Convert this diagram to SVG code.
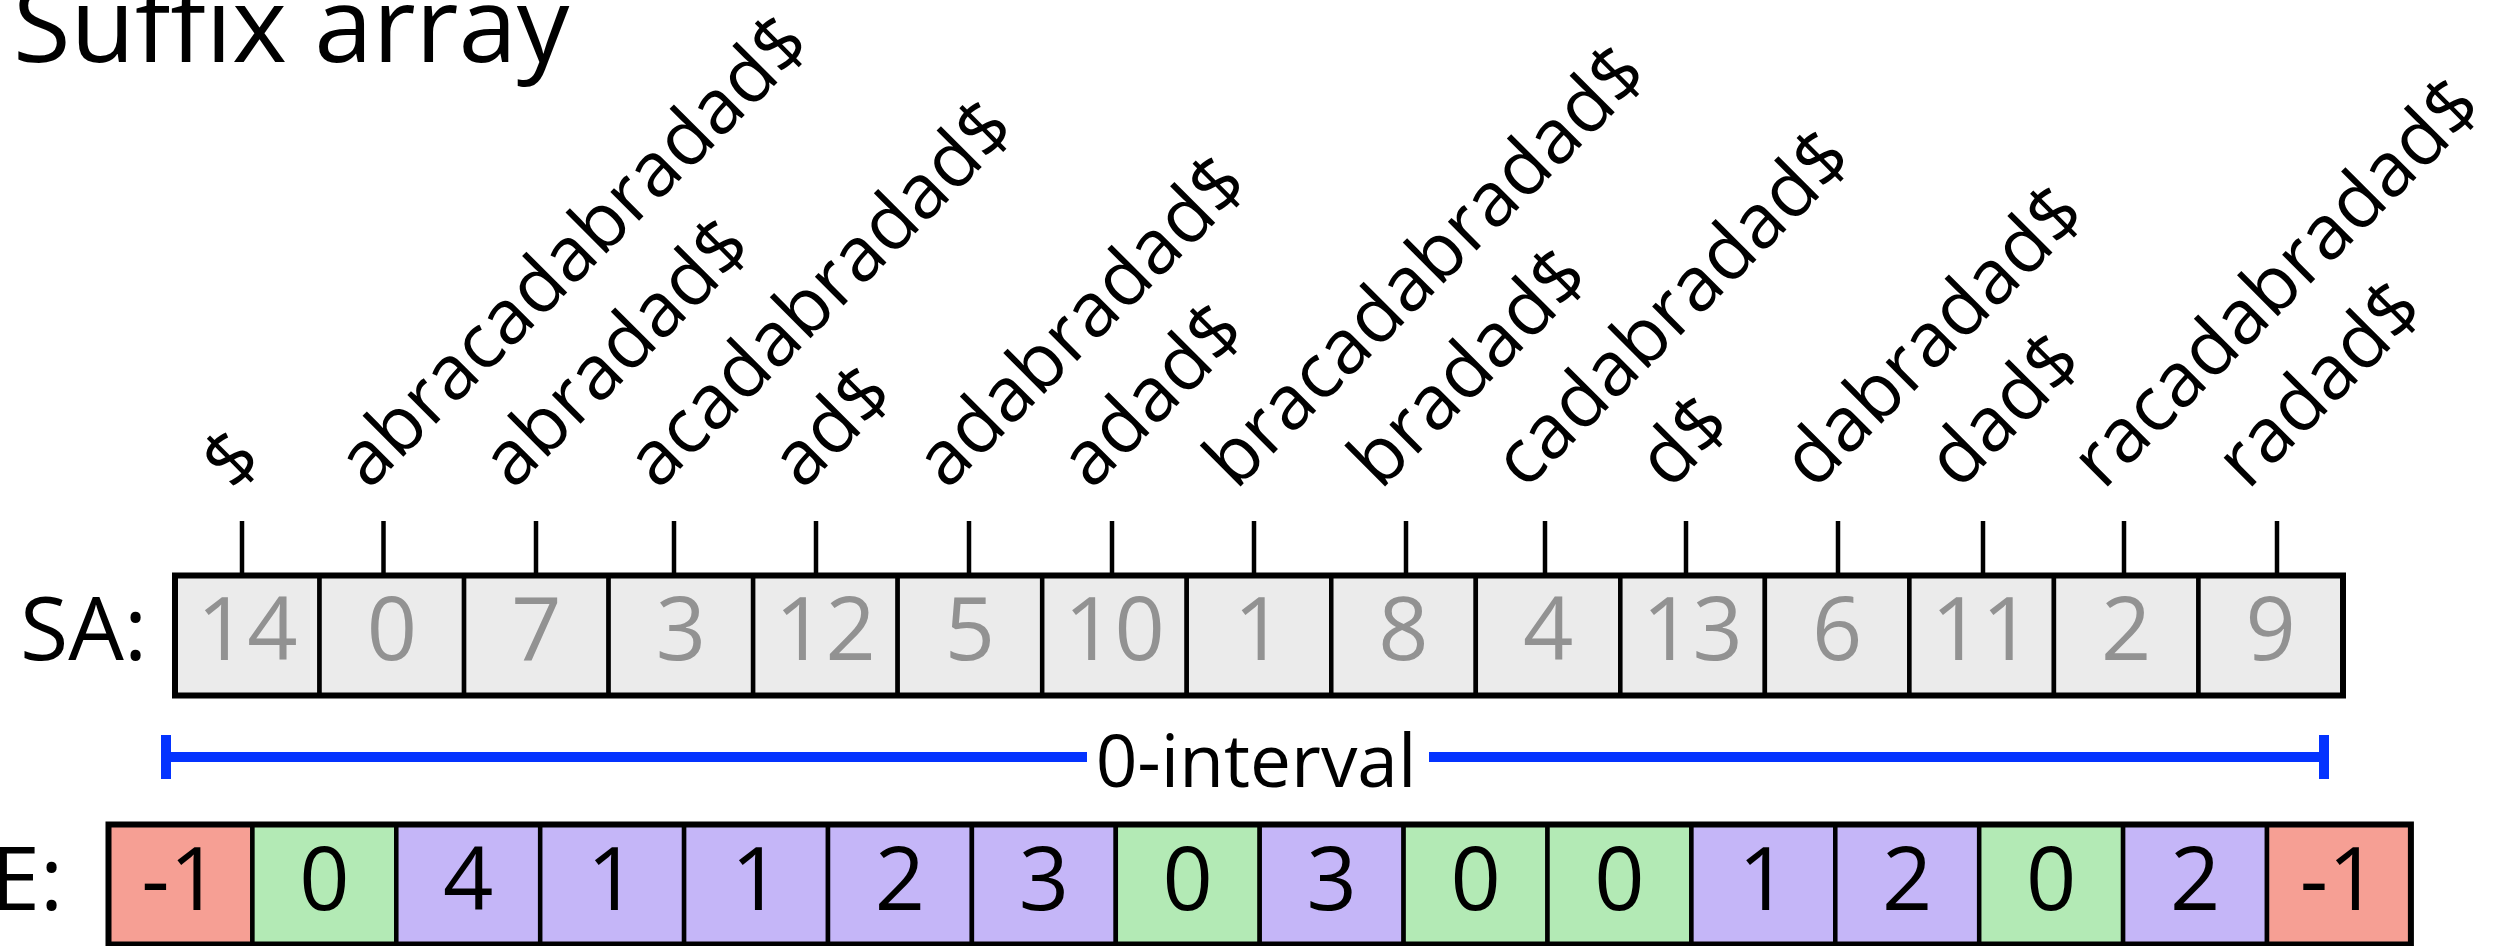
<svg xmlns="http://www.w3.org/2000/svg" width="2515" height="946" viewBox="0 0 2515 946">
  <style>
    text { font-family: "Open Sans", "Noto Sans", "Liberation Sans", sans-serif; }
    .title { font-size: 105px; fill: #000; }
    .rowlabel { font-size: 88px; fill: #000; text-anchor: end; }
    .suffix { font-size: 76px; fill: #000; }
    .sa-cell { fill: #ebebeb; stroke: #000; stroke-width: 4.5; }
    .sa-val { font-size: 88px; fill: #929292; text-anchor: middle; }
    .lcp-cell { stroke: #000; stroke-width: 4.5; }
    .lcp-val { font-size: 88px; fill: #000; text-anchor: middle; }
    .neg { fill: #f69f94; }
    .zero { fill: #b3eab5; }
    .pos { fill: #c5b6f8; }
    .frame { fill: none; stroke: #000; stroke-width: 6; }
    .tick { stroke: #000; stroke-width: 4.5; }
    .interval { stroke: #0433ff; stroke-width: 10; fill: none; }
    .interval-label { font-size: 73px; fill: #000; text-anchor: middle; }
  </style>

  <rect width="2515" height="946" fill="#fff"/>

  <text class="title" x="13" y="62">Suffix array</text>

  <!-- row labels -->
  <text id="sa-label" class="rowlabel" x="147" y="660">SA:</text>
  <text id="lcp-label" class="rowlabel" x="63" y="910">E:</text>

  <!-- suffixes, rotated 45 degrees above each SA entry -->
  <g id="suffix-0"><text class="suffix" transform="translate(234,493) rotate(-45)">$</text></g>
  <g id="suffix-1"><text class="suffix" transform="translate(368.8,491) rotate(-45)">abracadabradad$</text></g>
  <g id="suffix-2"><text class="suffix" transform="translate(513.3,491) rotate(-45)">abradad$</text></g>
  <g id="suffix-3"><text class="suffix" transform="translate(657.9,491) rotate(-45)">acadabradad$</text></g>
  <g id="suffix-4"><text class="suffix" transform="translate(802.4,491) rotate(-45)">ad$</text></g>
  <g id="suffix-5"><text class="suffix" transform="translate(946.9,491) rotate(-45)">adabradad$</text></g>
  <g id="suffix-6"><text class="suffix" transform="translate(1091.5,491) rotate(-45)">adad$</text></g>
  <g id="suffix-7"><text class="suffix" transform="translate(1236,491) rotate(-45)">bracadabradad$</text></g>
  <g id="suffix-8"><text class="suffix" transform="translate(1380.5,491) rotate(-45)">bradad$</text></g>
  <g id="suffix-9"><text class="suffix" transform="translate(1525.1,491) rotate(-45)">cadabradad$</text></g>
  <g id="suffix-10"><text class="suffix" transform="translate(1669.6,491) rotate(-45)">d$</text></g>
  <g id="suffix-11"><text class="suffix" transform="translate(1814.1,491) rotate(-45)">dabradad$</text></g>
  <g id="suffix-12"><text class="suffix" transform="translate(1958.7,491) rotate(-45)">dad$</text></g>
  <g id="suffix-13"><text class="suffix" transform="translate(2103.2,491) rotate(-45)">racadabradad$</text></g>
  <g id="suffix-14"><text class="suffix" transform="translate(2247.7,491) rotate(-45)">radad$</text></g>

  <!-- leader ticks from each suffix down to its SA entry -->
  <g id="connectors">
    <line class="tick" x1="242" y1="521" x2="242" y2="575"/>
    <line class="tick" x1="383.5" y1="521" x2="383.5" y2="575"/>
    <line class="tick" x1="536" y1="521" x2="536" y2="575"/>
    <line class="tick" x1="674" y1="521" x2="674" y2="575"/>
    <line class="tick" x1="816" y1="521" x2="816" y2="575"/>
    <line class="tick" x1="969" y1="521" x2="969" y2="575"/>
    <line class="tick" x1="1112" y1="521" x2="1112" y2="575"/>
    <line class="tick" x1="1254" y1="521" x2="1254" y2="575"/>
    <line class="tick" x1="1406" y1="521" x2="1406" y2="575"/>
    <line class="tick" x1="1545" y1="521" x2="1545" y2="575"/>
    <line class="tick" x1="1686" y1="521" x2="1686" y2="575"/>
    <line class="tick" x1="1838" y1="521" x2="1838" y2="575"/>
    <line class="tick" x1="1983" y1="521" x2="1983" y2="575"/>
    <line class="tick" x1="2124" y1="521" x2="2124" y2="575"/>
    <line class="tick" x1="2277" y1="521" x2="2277" y2="575"/>
  </g>

  <!-- suffix array -->
  <g id="sa">
    <g id="sa-0"><rect class="sa-cell" x="175" y="575.5" width="144.53" height="120"/><text class="sa-val" x="247.27" y="660">14</text></g>
    <g id="sa-1"><rect class="sa-cell" x="319.53" y="575.5" width="144.53" height="120"/><text class="sa-val" x="391.8" y="660">0</text></g>
    <g id="sa-2"><rect class="sa-cell" x="464.07" y="575.5" width="144.53" height="120"/><text class="sa-val" x="536.33" y="660">7</text></g>
    <g id="sa-3"><rect class="sa-cell" x="608.6" y="575.5" width="144.53" height="120"/><text class="sa-val" x="680.87" y="660">3</text></g>
    <g id="sa-4"><rect class="sa-cell" x="753.13" y="575.5" width="144.53" height="120"/><text class="sa-val" x="825.4" y="660">12</text></g>
    <g id="sa-5"><rect class="sa-cell" x="897.67" y="575.5" width="144.53" height="120"/><text class="sa-val" x="969.93" y="660">5</text></g>
    <g id="sa-6"><rect class="sa-cell" x="1042.2" y="575.5" width="144.53" height="120"/><text class="sa-val" x="1114.47" y="660">10</text></g>
    <g id="sa-7"><rect class="sa-cell" x="1186.73" y="575.5" width="144.53" height="120"/><text class="sa-val" x="1259" y="660">1</text></g>
    <g id="sa-8"><rect class="sa-cell" x="1331.27" y="575.5" width="144.53" height="120"/><text class="sa-val" x="1403.53" y="660">8</text></g>
    <g id="sa-9"><rect class="sa-cell" x="1475.8" y="575.5" width="144.53" height="120"/><text class="sa-val" x="1548.07" y="660">4</text></g>
    <g id="sa-10"><rect class="sa-cell" x="1620.33" y="575.5" width="144.53" height="120"/><text class="sa-val" x="1692.6" y="660">13</text></g>
    <g id="sa-11"><rect class="sa-cell" x="1764.87" y="575.5" width="144.53" height="120"/><text class="sa-val" x="1837.13" y="660">6</text></g>
    <g id="sa-12"><rect class="sa-cell" x="1909.4" y="575.5" width="144.53" height="120"/><text class="sa-val" x="1981.67" y="660">11</text></g>
    <g id="sa-13"><rect class="sa-cell" x="2053.93" y="575.5" width="144.53" height="120"/><text class="sa-val" x="2126.2" y="660">2</text></g>
    <g id="sa-14"><rect class="sa-cell" x="2198.47" y="575.5" width="144.53" height="120"/><text class="sa-val" x="2270.73" y="660">9</text></g>
    <rect class="frame" x="175" y="575.5" width="2168" height="120"/>
  </g>

  <!-- interval bracket -->
  <g id="interval">
    <path class="interval" d="M166 757 H1087 M1429 757 H2324 M166 735 V779 M2324 735 V779"/>
    <text class="interval-label" x="1256" y="787">0-interval</text>
  </g>

  <!-- LCP array -->
  <g id="lcp">
    <g id="lcp-0"><rect class="lcp-cell neg" x="108.5" y="824.5" width="143.9" height="120"/><text class="lcp-val" x="180.45" y="910">-1</text></g>
    <g id="lcp-1"><rect class="lcp-cell zero" x="252.4" y="824.5" width="143.9" height="120"/><text class="lcp-val" x="324.35" y="910">0</text></g>
    <g id="lcp-2"><rect class="lcp-cell pos" x="396.3" y="824.5" width="143.9" height="120"/><text class="lcp-val" x="468.25" y="910">4</text></g>
    <g id="lcp-3"><rect class="lcp-cell pos" x="540.2" y="824.5" width="143.9" height="120"/><text class="lcp-val" x="612.15" y="910">1</text></g>
    <g id="lcp-4"><rect class="lcp-cell pos" x="684.1" y="824.5" width="143.9" height="120"/><text class="lcp-val" x="756.05" y="910">1</text></g>
    <g id="lcp-5"><rect class="lcp-cell pos" x="828" y="824.5" width="143.9" height="120"/><text class="lcp-val" x="899.95" y="910">2</text></g>
    <g id="lcp-6"><rect class="lcp-cell pos" x="971.9" y="824.5" width="143.9" height="120"/><text class="lcp-val" x="1043.85" y="910">3</text></g>
    <g id="lcp-7"><rect class="lcp-cell zero" x="1115.8" y="824.5" width="143.9" height="120"/><text class="lcp-val" x="1187.75" y="910">0</text></g>
    <g id="lcp-8"><rect class="lcp-cell pos" x="1259.7" y="824.5" width="143.9" height="120"/><text class="lcp-val" x="1331.65" y="910">3</text></g>
    <g id="lcp-9"><rect class="lcp-cell zero" x="1403.6" y="824.5" width="143.9" height="120"/><text class="lcp-val" x="1475.55" y="910">0</text></g>
    <g id="lcp-10"><rect class="lcp-cell zero" x="1547.5" y="824.5" width="143.9" height="120"/><text class="lcp-val" x="1619.45" y="910">0</text></g>
    <g id="lcp-11"><rect class="lcp-cell pos" x="1691.4" y="824.5" width="143.9" height="120"/><text class="lcp-val" x="1763.35" y="910">1</text></g>
    <g id="lcp-12"><rect class="lcp-cell pos" x="1835.3" y="824.5" width="143.9" height="120"/><text class="lcp-val" x="1907.25" y="910">2</text></g>
    <g id="lcp-13"><rect class="lcp-cell zero" x="1979.2" y="824.5" width="143.9" height="120"/><text class="lcp-val" x="2051.15" y="910">0</text></g>
    <g id="lcp-14"><rect class="lcp-cell pos" x="2123.1" y="824.5" width="143.9" height="120"/><text class="lcp-val" x="2195.05" y="910">2</text></g>
    <g id="lcp-15"><rect class="lcp-cell neg" x="2267" y="824.5" width="143.9" height="120"/><text class="lcp-val" x="2338.95" y="910">-1</text></g>
    <rect class="frame" x="108.5" y="824.5" width="2302.4" height="120"/>
  </g>
</svg>
